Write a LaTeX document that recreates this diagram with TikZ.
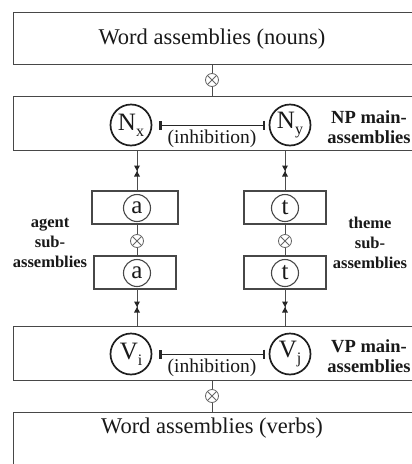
\documentclass[tikz,border=0pt]{standalone}
\usepackage{fontspec}
\setmainfont{Liberation Serif}
\usetikzlibrary{arrows.meta,calc}
\begin{document}
\begin{tikzpicture}[x=1pt,y=-1pt,
  box/.style={draw=black!72, line width=1.3pt, rectangle, inner sep=0pt},
  bigtext/.style={font=\fontsize{22.5}{22}\selectfont, text=black!90},
  mainc/.style={circle, draw=black!88, line width=1.7pt, minimum size=41pt, inner sep=0pt, font=\fontsize{25}{25}\selectfont, text=black!90},
  subc/.style={circle, draw=black!72, line width=1.1pt, minimum size=27pt, inner sep=0pt, font=\fontsize{25}{25}\selectfont, text=black!90},
  otimes/.style={circle, draw=black!60, line width=0.8pt, minimum size=13pt, inner sep=0pt,
    path picture={\draw[black!60, line width=0.8pt] (path picture bounding box.north west) -- (path picture bounding box.south east)
      (path picture bounding box.north east) -- (path picture bounding box.south west);}},
  conn/.style={draw=black!70, line width=1pt},
  inh/.style={draw=black!85, line width=1pt, {Bar[width=9pt,line width=2.4pt]}-{Bar[width=9pt,line width=2.4pt]}},
  lab/.style={align=center, font=\bfseries\fontsize{18.5}{20}\selectfont, text=black!90},
  sidelab/.style={align=center, font=\bfseries\fontsize{16.5}{20}\selectfont, text=black!90},
  inhtext/.style={font=\fontsize{19.5}{19}\selectfont, text=black!90},
  hglass/.pic={\fill[black!85] (-3,-5.5) -- (3,-5.5) -- (0,0) -- cycle;
               \fill[black!85] (-3,5.5) -- (3,5.5) -- (0,0) -- cycle;}
]
\useasboundingbox (0,0) rectangle (412,464);
\clip (0,0) rectangle (412,464);
\fill[white] (0,0) rectangle (412,464);

% word assemblies (nouns)
\node[box, minimum width=410pt, minimum height=52pt, anchor=north west] (wn) at (13,12) {};
\node[bigtext] (wnt) at (212,39) {Word assemblies (nouns)};
\node[otimes] (o1) at (212,80) {};
\draw[conn] (o1 |- wn.south) -- (o1) -- (o1 |- 0,96);

% NP main assemblies
\node[box, minimum width=410pt, minimum height=54pt, anchor=north west] (np) at (13,96) {};
\node[mainc] (nx) at (131,125) {N\raisebox{-6pt}{\fontsize{16}{16}\selectfont x}};
\node[mainc] (ny) at (290,125) {N\raisebox{-6pt}{\fontsize{16}{16}\selectfont y}};
\draw[inh, shorten <=7pt, shorten >=3.5pt] (nx) -- (ny);
\node[inhtext] (inh1) at (212,139) {(inhibition)};
\node[lab] (npl) at (369,127) {NP main-\\assemblies};

% sub-assemblies boxes
\node[box, minimum width=86pt, minimum height=33pt] (ba1) at (135,207.5) {};
\node[box, minimum width=82pt, minimum height=33pt] (ba2) at (135,272.5) {};
\node[box, minimum width=82pt, minimum height=33pt] (bt1) at (285,207.5) {};
\node[box, minimum width=82pt, minimum height=33pt] (bt2) at (285,272.5) {};
\node[subc] (a1) at (137,208) {a};
\node[subc] (a2) at (137,273) {a};
\node[subc] (t1) at (285,208) {t};
\node[subc] (t2) at (285,273) {t};
\node[otimes] (o2) at (137,241) {};
\node[otimes] (o3) at (285,241) {};
\draw[conn] (o2 |- ba1.south) -- (o2) -- (o2 |- ba2.north);
\draw[conn] (o3 |- bt1.south) -- (o3) -- (o3 |- bt2.north);

% connections NP -> sub
\coordinate (ca1) at (137,191);
\coordinate (ct1) at (285,191);
\draw[conn] (ca1 |- np.south) -- (ca1);
\draw[conn] (ct1 |- np.south) -- (ct1);
\pic at (137,171) {hglass};
\pic at (285,171) {hglass};

% VP main assemblies
\node[box, minimum width=410pt, minimum height=54pt, anchor=north west] (vp) at (13,326) {};
\coordinate (ca2) at (137,289);
\coordinate (ct2) at (285,289);
\draw[conn] (ca2) -- (ca2 |- vp.north);
\draw[conn] (ct2) -- (ct2 |- vp.north);
\pic at (137,307) {hglass};
\pic at (285,307) {hglass};
\node[mainc] (vi) at (131,354) {V\raisebox{-6pt}{\fontsize{16}{16}\selectfont i}};
\node[mainc] (vj) at (290,354) {V\raisebox{-6pt}{\fontsize{16}{16}\selectfont j}};
\draw[inh, shorten <=7pt, shorten >=3.5pt] (vi) -- (vj);
\node[inhtext] (inh2) at (212,368) {(inhibition)};
\node[lab] (vpl) at (369,356) {VP main-\\assemblies};

% word assemblies (verbs)
\node[box, minimum width=410pt, minimum height=70pt, anchor=north west] (wv) at (13,412) {};
\node[otimes] (o4) at (212,396) {};
\draw[conn] (o4 |- vp.south) -- (o4) -- (o4 |- wv.north);
\node[bigtext] (wvt) at (212,428) {Word assemblies (verbs)};

% side labels
\node[sidelab] (agl) at (50,243) {agent\\sub-\\assemblies};
\node[sidelab] (thl) at (370,243) {theme\\sub-\\assemblies};
\end{tikzpicture}
\end{document}
